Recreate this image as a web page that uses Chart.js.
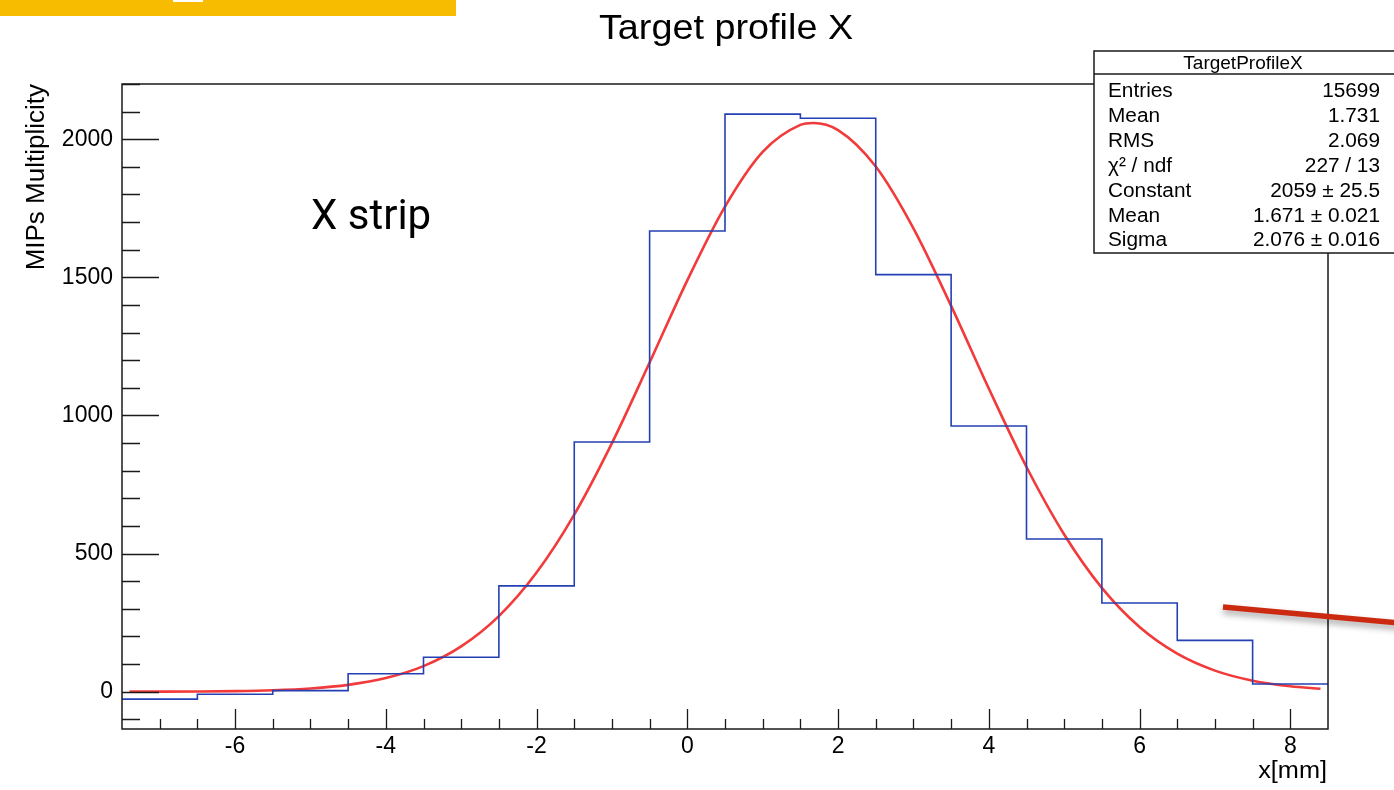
<!DOCTYPE html>
<html>
<head>
<meta charset="utf-8">
<title>Target profile X</title>
<script src="https://cdn.jsdelivr.net/npm/chart.js@4.4.1/dist/chart.umd.min.js"></script>
<style>
  html, body { margin: 0; padding: 0; background: #fff; }
  #wrap { position: relative; width: 1394px; height: 790px; overflow: hidden; }
</style>
</head>
<body>
<div id="wrap"><canvas id="chart" width="1394" height="790"></canvas></div>
<script>
// histogram bins (centres, 1 mm wide) and contents
const binCenters = [-7, -6, -5, -4, -3, -2, -1, 0, 1, 2, 3, 4, 5, 6, 7, 8];
const counts = [-27, -9, 4, 65, 125, 383, 904, 1668, 2091, 2076, 1510, 962, 553, 321, 186, 28];

// gaussian fit curve
const fitX = [-7.4, -7, -6.5, -6, -5.5, -5, -4.5, -4, -3.5, -3, -2.5, -2, -1.5, -1, -0.5, 0, 0.5, 1, 1.5, 1.67,
  2, 2.5, 3, 3.5, 4, 4.5, 5, 5.5, 6, 6.5, 7, 7.5, 8, 8.4];
const fitY = [0.15, 0.34, 0.89, 2.2, 5.3, 11.8, 24.8, 49.3, 92.6, 163.9, 273.6, 431.4, 641.2, 900, 1191.8, 1489.3,
  1756.1, 1954.2, 2052, 2059, 2033.3, 1901.3, 1677.5, 1396.8, 1097.5, 813.5, 569.3, 375.8, 234.1, 137.7, 76.4, 40, 19.7, 10.8];

const xTicks = [-6, -4, -2, 0, 2, 4, 6, 8];
const yTicks = [0, 500, 1000, 1500, 2000];

const statsTitle = "TargetProfileX";
const statsLabels = ["Entries", "Mean", "RMS", "\u03C7\u00B2 / ndf", "Constant", "Mean", "Sigma"];
const statsValues = ["15699", "1.731", "2.069", "227 / 13", "2059 \u00B1 25.5", "1.671 \u00B1 0.021", "2.076 \u00B1 0.016"];

const FONT = "'Liberation Sans', Arial, Helvetica, sans-serif";

// step outline: left edges, plus the right edge of the last bin
const histPoints = binCenters.map((c, i) => ({ x: c - 0.5, y: counts[i] }));
histPoints.push({ x: binCenters[binCenters.length - 1] + 0.5, y: counts[counts.length - 1] });
const fitPoints = fitX.map((x, i) => ({ x: x, y: fitY[i] }));

// text with optional horizontal stretch (the slide squashed the ROOT canvas)
function drawText(ctx, text, x, y, size, sx, align, font) {
  ctx.save();
  ctx.font = size + "px " + (font || FONT);
  ctx.textAlign = align || "left";
  ctx.textBaseline = "alphabetic";
  ctx.translate(x, y);
  ctx.scale(sx || 1, 1);
  ctx.fillText(text, 0, 0);
  ctx.restore();
}

const rootFrame = {
  id: "rootFrame",
  beforeDraw(chart) {
    const ctx = chart.ctx;
    ctx.save();
    ctx.fillStyle = "#fff";
    ctx.fillRect(0, 0, chart.width, chart.height);
    // yellow slide bar, top left
    ctx.fillStyle = "#f7bb00";
    ctx.fillRect(0, 0, 456, 16);
    ctx.fillStyle = "#fff";
    ctx.fillRect(173, 0, 30, 2);
    ctx.restore();
  },
  afterDraw(chart) {
    const ctx = chart.ctx;
    const a = chart.chartArea;
    const xs = chart.scales.x;
    const ys = chart.scales.y;
    ctx.save();
    ctx.strokeStyle = "#1a1a1a";
    ctx.lineWidth = 1.5;
    ctx.strokeRect(a.left, a.top, a.right - a.left, a.bottom - a.top);

    // ticks drawn inside the frame, ROOT style
    ctx.lineWidth = 1.3;
    ctx.beginPath();
    for (let v = -100; v <= 2200; v += 100) {
      const py = Math.round(ys.getPixelForValue(v)) + 0.5;
      const len = v % 500 === 0 ? 37 : 18;
      ctx.moveTo(a.left, py);
      ctx.lineTo(a.left + len, py);
    }
    for (let v = -7; v <= 8; v += 0.5) {
      const px = Math.round(xs.getPixelForValue(v)) + 0.5;
      const len = v % 2 === 0 ? 20 : 10;
      ctx.moveTo(px, a.bottom);
      ctx.lineTo(px, a.bottom - len);
    }
    ctx.stroke();

    ctx.fillStyle = "#000";
    drawText(ctx, "Target profile X", 726, 39, 35, 1.08, "center");
    drawText(ctx, "x[mm]", 1327, 778, 23, 1.1, "right");
    ctx.save();
    ctx.translate(44, 84);
    ctx.rotate(-Math.PI / 2);
    drawText(ctx, "MIPs Multiplicity", 0, 0, 26, 1, "right");
    ctx.restore();

    drawText(ctx, "X strip", 311, 229, 42, 1, "left", "Roboto, 'Helvetica Neue', sans-serif");

    // stats box
    ctx.fillStyle = "#fff";
    ctx.fillRect(1094, 51, 310, 202);
    ctx.strokeStyle = "#1a1a1a";
    ctx.lineWidth = 1.5;
    ctx.strokeRect(1094, 51, 310, 202);
    ctx.beginPath();
    ctx.moveTo(1094, 74);
    ctx.lineTo(1394, 74);
    ctx.stroke();
    ctx.fillStyle = "#000";
    drawText(ctx, statsTitle, 1243, 69, 19, 1, "center");
    statsLabels.forEach((lab, i) => {
      const by = 97 + i * 24.9;
      drawText(ctx, lab, 1108, by, 20, 1.04, "left");
      drawText(ctx, statsValues[i], 1380, by, 20, 1.04, "right");
    });

    // red arrow stroke from the slide
    ctx.save();
    ctx.shadowColor = "rgba(0,0,0,0.35)";
    ctx.shadowBlur = 6;
    ctx.shadowOffsetY = 4;
    ctx.strokeStyle = "#cc2a10";
    ctx.lineWidth = 5.5;
    ctx.beginPath();
    ctx.moveTo(1223, 607);
    ctx.lineTo(1400, 623);
    ctx.stroke();
    ctx.restore();
    ctx.restore();
  }
};

const ctx = document.getElementById("chart").getContext("2d");
new Chart(ctx, {
  type: "line",
  data: {
    datasets: [
      {
        label: "TargetProfileX",
        data: histPoints,
        stepped: "before",
        borderColor: "#2440b4",
        borderWidth: 1.6,
        pointRadius: 0,
        fill: false,
      },
      {
        label: "gaus",
        data: fitPoints,
        borderColor: "#f23a3a",
        borderWidth: 2.6,
        pointRadius: 0,
        cubicInterpolationMode: "monotone",
        fill: false,
      },
    ],
  },
  options: {
    responsive: false,
    animation: false,
    events: [],
    layout: { padding: { top: 84, right: 66, left: 0, bottom: 0 } },
    plugins: {
      legend: { display: false },
      title: { display: false },
      tooltip: { enabled: false },
    },
    scales: {
      x: {
        type: "linear",
        min: -7.5,
        max: 8.5,
        afterBuildTicks: (s) => { s.ticks = xTicks.map((v) => ({ value: v })); },
        afterFit: (s) => { s.height = 61; },
        grid: { display: false, drawTicks: false },
        border: { display: false },
        ticks: { color: "#000", padding: 4, font: { family: FONT, size: 23 }, callback: (v) => String(v) },
      },
      y: {
        type: "linear",
        min: -135,
        max: 2200,
        afterBuildTicks: (s) => { s.ticks = yTicks.map((v) => ({ value: v })); },
        afterFit: (s) => { s.width = 122; },
        grid: { display: false, drawTicks: false },
        border: { display: false },
        ticks: { color: "#000", padding: 9, font: { family: FONT, size: 23 }, callback: (v) => String(v) },
      },
    },
  },
  plugins: [rootFrame],
});
</script>
</body>
</html>
